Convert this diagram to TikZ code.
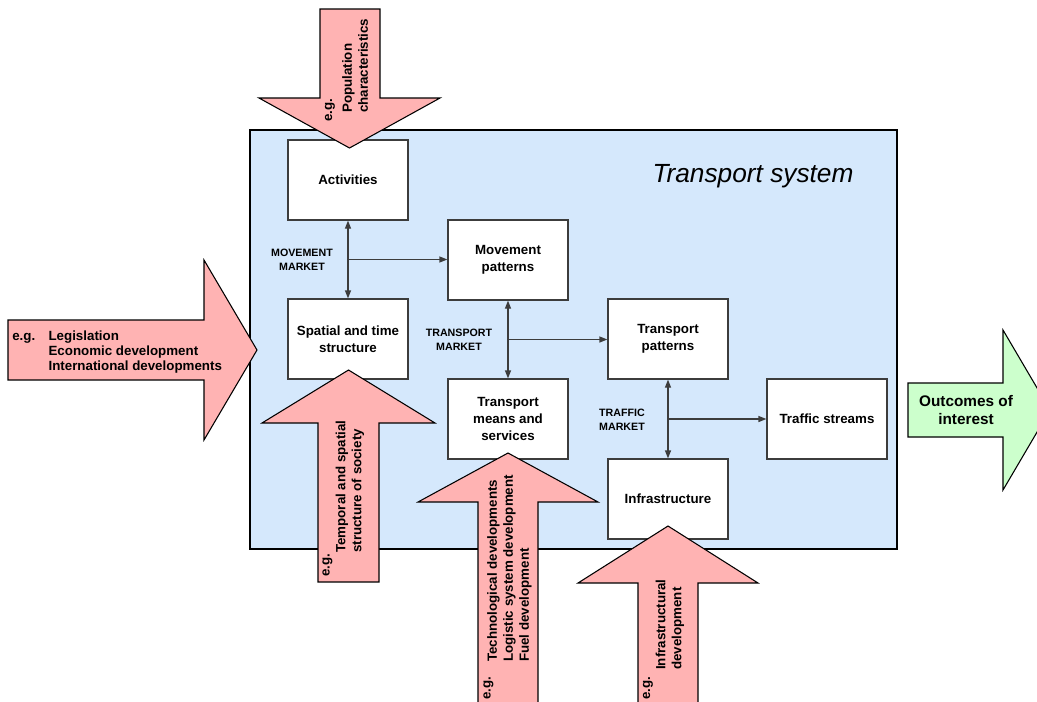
\documentclass[tikz,border=0pt]{standalone}
\usepackage{fontspec}
\setmainfont{Liberation Sans}
\usetikzlibrary{arrows.meta,calc}
\definecolor{sysBlue}{RGB}{213,232,252}
\definecolor{inPink}{RGB}{255,179,179}
\definecolor{outGreen}{RGB}{204,255,204}
\definecolor{lineGrey}{RGB}{60,60,60}

\tikzset{
	sysbox/.style={draw=lineGrey, line width=0.9pt, fill=white,
		minimum width=90pt, minimum height=60pt, align=center,
		font=\bfseries\fontsize{10}{12.75}\selectfont},
	mktlabel/.style={align=center, inner sep=0pt,
		font=\bfseries\fontsize{8}{10.5}\selectfont},
	link/.style={draw=lineGrey, line width=0.9pt},
	tip/.style={-{Triangle[length=6pt,width=4.5pt]}},
	twotip/.style={{Triangle[length=6pt,width=4.5pt]}-{Triangle[length=6pt,width=4.5pt]}},
	bigarrow/.style={draw=black, line width=0.8pt, fill=inPink},
	rottext/.style={rotate=90, inner sep=0pt, align=left,
		font=\bfseries\fontsize{10}{12}\selectfont}
}

\begin{document}
\begin{tikzpicture}[x=0.75pt,y=-0.75pt]
	\useasboundingbox (0,0) rectangle (1037,701);
	\clip (0,0) rectangle (1037,701);

	% transport system frame
	\draw[draw=black, line width=0.9pt, fill=sysBlue] (250,130) rectangle (897,549);
	\node (title) at (753,176) {\itshape\fontsize{19.7}{24}\selectfont Transport system};

	% elements of the system
	\node[sysbox] (act)   at (348,180) {Activities};
	\node[sysbox] (spat)  at (348,339) {Spatial and time\\structure};
	\node[sysbox] (mpat)  at (508,260) {Movement\\patterns};
	\node[sysbox] (tmean) at (508,419) {Transport\\means and\\services};
	\node[sysbox] (tpat)  at (668,339) {Transport\\patterns};
	\node[sysbox] (infra) at (668,499) {Infrastructure};
	\node[sysbox] (tstr)  at (827,419) {Traffic streams};

	% markets
	\coordinate (mvmid) at ($(act.south)!0.5!(spat.north)$);
	\coordinate (trmid) at ($(mpat.south)!0.5!(tmean.north)$);
	\coordinate (tfmid) at ($(tpat.south)!0.5!(infra.north)$);
	\draw[link, twotip] (act.south) -- (spat.north);
	\draw[link, tip] (mvmid) -- (mvmid -| mpat.west);
	\draw[link, twotip] (mpat.south) -- (tmean.north);
	\draw[link, tip] (trmid) -- (trmid -| tpat.west);
	\draw[link, twotip] (tpat.south) -- (infra.north);
	\draw[link, tip] (tfmid) -- (tfmid -| tstr.west);

	\node[mktlabel] (mvmkt) at (302,260) {MOVEMENT\\MARKET};
	\node[mktlabel] (trmkt) at (459,340) {TRANSPORT\\MARKET};
	\node[mktlabel] (tfmkt) at (622,420) {TRAFFIC\\MARKET};

	% external influences
	\draw[bigarrow] (320,9) -- (380,9) -- (380,98) -- (440,98) -- (349.5,148)
		-- (259,98) -- (320,98) -- cycle;
	\draw[bigarrow] (8,320) -- (204,320) -- (204,260) -- (257,350) -- (204,440)
		-- (204,380) -- (8,380) -- cycle;
	\draw[bigarrow] (318,582) -- (318,423) -- (262,423) -- (348.5,370) -- (435,423)
		-- (379,423) -- (379,582) -- cycle;
	\draw[bigarrow] (478,706) -- (478,502) -- (418,502) -- (508,453) -- (598,502)
		-- (538,502) -- (538,706) -- cycle;
	\draw[bigarrow] (638,706) -- (638,583) -- (578,583) -- (668,526) -- (758,583)
		-- (698,583) -- (698,706) -- cycle;
	\draw[bigarrow, fill=outGreen] (908,383) -- (1003,383) -- (1003,330) -- (1050,410)
		-- (1003,490) -- (1003,437) -- (908,437) -- cycle;

	\node[rottext] (popeg) at (330,110) {e.g.};
	\node[rottext, anchor=west] (pop) at (355,113) {Population\\characteristics};
	\node[anchor=west, inner sep=0pt] (legis) at (12,352) {\bfseries\fontsize{10}{11.25}\selectfont
		\begin{tabular}{@{}l@{\hspace{10pt}}l@{}}
			e.g. & Legislation\\
			& Economic development\\
			& International developments
		\end{tabular}};
	\node[rottext] (tempeg) at (327.5,565) {e.g.};
	\node[rottext, anchor=west] (temp) at (350,553) {Temporal and spatial\\structure of society};
	\node[rottext] (techeg) at (488.5,688) {e.g.};
	\node[rottext, anchor=west] (tech) at (509.5,662) {Technological developments\\Logistic system development\\Fuel development};
	\node[rottext] (infeg) at (648,688) {e.g.};
	\node[rottext, anchor=west] (infdev) at (670,670) {Infrastructural\\development};
	\node[align=center, font=\bfseries\fontsize{11.5}{13.5}\selectfont] (outc) at (966,410) {Outcomes of\\interest};
\end{tikzpicture}
\end{document}
